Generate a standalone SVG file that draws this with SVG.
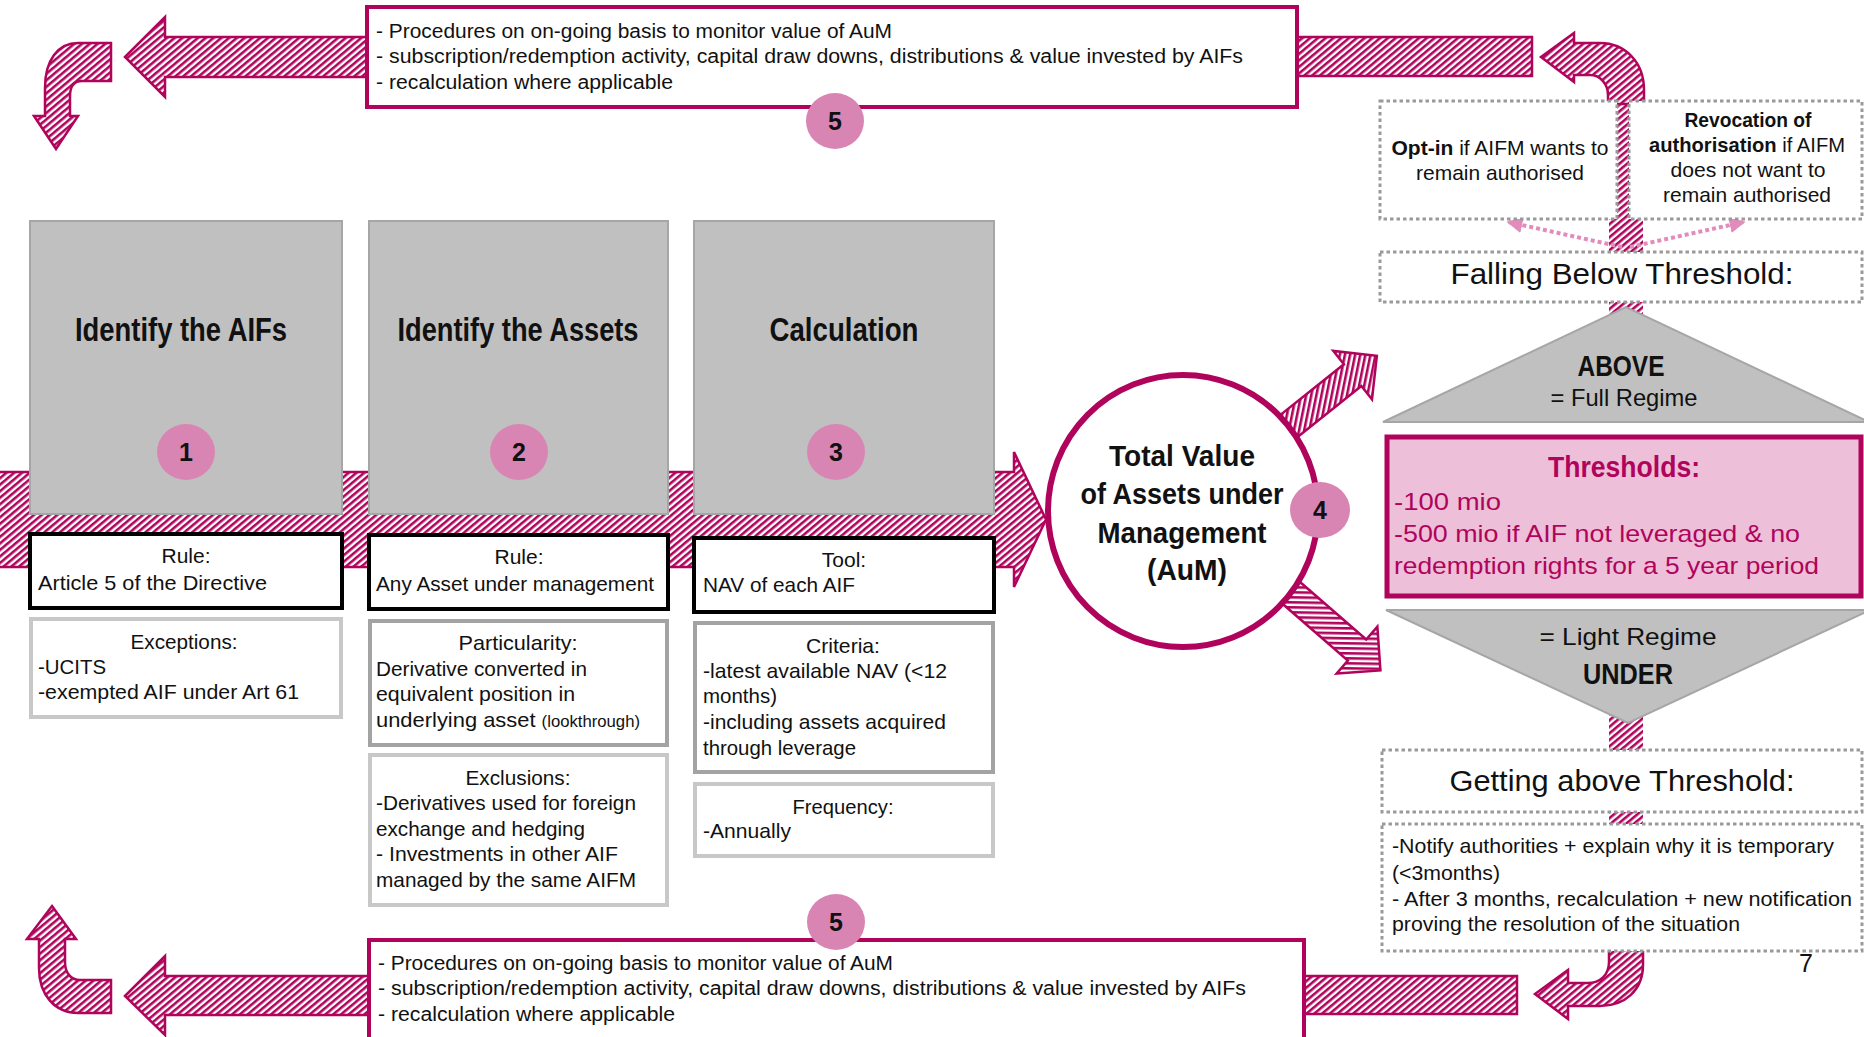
<svg xmlns="http://www.w3.org/2000/svg" width="1864" height="1037" viewBox="0 0 1864 1037">
  <style>
    .t{font-family:"Liberation Sans Narrow","Liberation Sans",Arial,sans-serif;font-size:21px;fill:#111}
    .s{font-size:20px}
    .c{text-anchor:middle}
    .b{font-weight:bold}
    .title{font-size:33px;font-weight:bold;text-anchor:middle}
    .big{font-size:30px}
    .mid{font-size:24px}
    .f29{font-size:30px}
    .f25{font-size:25px}
    .small{font-size:16px}
    .num{font-size:25px;font-weight:bold;text-anchor:middle}
    .mag{fill:#B0045C}
    .hatch{fill:url(#hatch);stroke:#B0045C;stroke-width:2.5;stroke-linejoin:miter}
    .grey{fill:#C0C0C0;stroke:#A6A6A6;stroke-width:2}
    .badge{fill:#D985B3}
    .black{fill:#fff;stroke:#000;stroke-width:4}
    .light{fill:#fff;stroke:#C8C8C8;stroke-width:4}
    .dark{fill:#fff;stroke:#A3A3A3;stroke-width:4}
    .dots{fill:#fff;stroke:#9A9A9A;stroke-width:3;stroke-dasharray:3.5 3}
    .frame{fill:#fff;stroke:#B0045C;stroke-width:4}
    .pinkdot{fill:none;stroke:#E28CBC;stroke-width:4;stroke-dasharray:4 3}
  </style>
  <defs>
    <pattern id="hatch" width="5" height="5" patternUnits="userSpaceOnUse" patternTransform="rotate(50)">
      <rect width="5" height="5" fill="#fff"/>
      <rect width="2.6" height="5" fill="#B0045C"/>
    </pattern>
    <marker id="pinkhead" viewBox="0 0 10 10" refX="9" refY="5" markerWidth="16" markerHeight="16" markerUnits="userSpaceOnUse" orient="auto">
      <path d="M0,0 L10,5 L0,10 Z" fill="#E28CBC"/>
    </marker>
  </defs>

  <rect width="1864" height="1037" fill="#fff"/>

  <g id="connectors">
    <!-- main flow band with head -->
    <path class="hatch" d="M-2,472 L1014,472 L1014,452 L1046,519.5 L1014,587 L1014,567 L-2,567 Z"/>
    <!-- diagonal arrows out of the AuM circle -->
    <path class="hatch" transform="translate(1282.3,431.3) rotate(-38.6)" d="M0,-14 L90,-14 L90,-31 L121,0 L90,31 L90,14 L0,14 Z"/>
    <path class="hatch" transform="translate(1289.1,591) rotate(41)" d="M0,-14 L90,-14 L90,-31 L121,0 L90,31 L90,14 L0,14 Z"/>
    <!-- vertical spine on the right, upper and lower runs -->
    <rect x="1609" y="95" width="34" height="225" fill="url(#hatch)"/>
    <rect x="1609" y="700" width="34" height="257" fill="url(#hatch)"/>
    <!-- top loop -->
    <path class="hatch" d="M1541,57 L1574,33 L1574,43 L1600,43 C1625,43 1644,62 1644,90 L1644,104 L1608,104 L1608,95 C1608,84 1600,75 1590,75 L1574,75 L1574,82 Z"/>
    <rect class="hatch" x="1296" y="37" width="236" height="39"/>
    <path class="hatch" d="M125,57 L165,17 L165,37 L370,37 L370,77 L165,77 L165,97 Z"/>
    <path class="hatch" d="M111,43 L78,43 C58,43 45,60 45,88 L45,116 L34,116 L56,149 L78,116 L70,116 L70,96 C70,87 74,81 82,81 L111,81 Z"/>
    <!-- bottom loop -->
    <path class="hatch" d="M1535,994 L1568,970 L1568,983 L1588,983 C1600,983 1609,975 1609,962 L1609,950 L1643,950 L1643,965 C1643,990 1625,1006 1600,1006 L1568,1006 L1568,1019 Z"/>
    <rect class="hatch" x="1302" y="976" width="215" height="38"/>
    <path class="hatch" d="M125,996 L165,956 L165,976 L372,976 L372,1015 L165,1015 L165,1035 Z"/>
    <path class="hatch" d="M52,906 L76,939 L65,939 L65,962 C65,973 71,980 80,980 L111,980 L111,1013 L78,1013 C55,1013 39,995 39,968 L39,939 L27,939 Z"/>
    <!-- options when falling below -->
    <line class="pinkdot" x1="1622" y1="247" x2="1508" y2="222" marker-end="url(#pinkhead)"/>
    <line class="pinkdot" x1="1630" y1="247" x2="1744" y2="222" marker-end="url(#pinkhead)"/>
  </g>

  <g id="monitor-top">
    <rect class="frame" x="367" y="7" width="930" height="100"/>
    <text class="t s" x="376" y="38" textLength="516" lengthAdjust="spacingAndGlyphs">- Procedures on on-going basis to monitor value of AuM</text>
    <text class="t s" x="376" y="63" textLength="867" lengthAdjust="spacingAndGlyphs">- subscription/redemption activity, capital draw downs, distributions &amp; value invested by AIFs</text>
    <text class="t s" x="376" y="89" textLength="297" lengthAdjust="spacingAndGlyphs">- recalculation where applicable</text>
    <ellipse class="badge" cx="835" cy="121" rx="29" ry="28"/>
    <text class="t num" x="835" y="130">5</text>
  </g>

  <g id="monitor-bottom">
    <rect class="frame" x="369" y="940" width="935" height="110"/>
    <text class="t s" x="378" y="970" textLength="515" lengthAdjust="spacingAndGlyphs">- Procedures on on-going basis to monitor value of AuM</text>
    <text class="t s" x="378" y="995" textLength="868" lengthAdjust="spacingAndGlyphs">- subscription/redemption activity, capital draw downs, distributions &amp; value invested by AIFs</text>
    <text class="t s" x="378" y="1021" textLength="297" lengthAdjust="spacingAndGlyphs">- recalculation where applicable</text>
    <ellipse class="badge" cx="836" cy="922" rx="29" ry="28"/>
    <text class="t num" x="836" y="931">5</text>
  </g>

  <g id="step-identify-aifs">
    <rect class="grey" x="30" y="221" width="312" height="293"/>
    <text class="t title" x="181" y="341" textLength="212" lengthAdjust="spacingAndGlyphs">Identify the AIFs</text>
    <ellipse class="badge" cx="186" cy="452" rx="29" ry="28"/>
    <text class="t num" x="186" y="461">1</text>
    <rect class="black" x="30" y="534" width="312" height="74"/>
    <text class="t c" x="186" y="563">Rule:</text>
    <text class="t" x="38" y="590" textLength="229" lengthAdjust="spacingAndGlyphs">Article 5 of the Directive</text>
    <rect class="light" x="31" y="619" width="310" height="98"/>
    <text class="t c" x="184" y="649" textLength="107" lengthAdjust="spacingAndGlyphs">Exceptions:</text>
    <text class="t" x="38" y="674" textLength="68" lengthAdjust="spacingAndGlyphs">-UCITS</text>
    <text class="t" x="38" y="699" textLength="261" lengthAdjust="spacingAndGlyphs">-exempted AIF under Art 61</text>
  </g>

  <g id="step-identify-assets">
    <rect class="grey" x="369" y="221" width="299" height="293"/>
    <text class="t title" x="518" y="341" textLength="241" lengthAdjust="spacingAndGlyphs">Identify the Assets</text>
    <ellipse class="badge" cx="519" cy="452" rx="29" ry="28"/>
    <text class="t num" x="519" y="461">2</text>
    <rect class="black" x="369" y="535" width="299" height="74"/>
    <text class="t c" x="519" y="564">Rule:</text>
    <text class="t" x="376" y="591" textLength="278" lengthAdjust="spacingAndGlyphs">Any Asset under management</text>
    <rect class="dark" x="370" y="621" width="297" height="124"/>
    <text class="t c" x="518" y="650" textLength="119" lengthAdjust="spacingAndGlyphs">Particularity:</text>
    <text class="t" x="376" y="676" textLength="211" lengthAdjust="spacingAndGlyphs">Derivative converted in</text>
    <text class="t" x="376" y="701" textLength="199" lengthAdjust="spacingAndGlyphs">equivalent position in</text>
    <text class="t" x="376" y="727" textLength="264" lengthAdjust="spacingAndGlyphs">underlying asset <tspan class="small">(lookthrough)</tspan></text>
    <rect class="light" x="370" y="755" width="297" height="150"/>
    <text class="t c" x="518" y="785" textLength="105" lengthAdjust="spacingAndGlyphs">Exclusions:</text>
    <text class="t" x="376" y="810" textLength="260" lengthAdjust="spacingAndGlyphs">-Derivatives used for foreign</text>
    <text class="t" x="376" y="836" textLength="209" lengthAdjust="spacingAndGlyphs">exchange and hedging</text>
    <text class="t" x="376" y="861" textLength="242" lengthAdjust="spacingAndGlyphs">- Investments in other AIF</text>
    <text class="t" x="376" y="887" textLength="260" lengthAdjust="spacingAndGlyphs">managed by the same AIFM</text>
  </g>

  <g id="step-calculation">
    <rect class="grey" x="694" y="221" width="300" height="293"/>
    <text class="t title" x="844" y="341" textLength="149" lengthAdjust="spacingAndGlyphs">Calculation</text>
    <ellipse class="badge" cx="836" cy="452" rx="29" ry="28"/>
    <text class="t num" x="836" y="461">3</text>
    <rect class="black" x="694" y="538" width="300" height="74"/>
    <text class="t c" x="844" y="567">Tool:</text>
    <text class="t" x="703" y="592" textLength="152" lengthAdjust="spacingAndGlyphs">NAV of each AIF</text>
    <rect class="dark" x="695" y="623" width="298" height="149"/>
    <text class="t c" x="843" y="653" textLength="74" lengthAdjust="spacingAndGlyphs">Criteria:</text>
    <text class="t" x="703" y="678" textLength="244" lengthAdjust="spacingAndGlyphs">-latest available NAV (&lt;12</text>
    <text class="t" x="703" y="703" textLength="74" lengthAdjust="spacingAndGlyphs">months)</text>
    <text class="t" x="703" y="729" textLength="243" lengthAdjust="spacingAndGlyphs">-including assets acquired</text>
    <text class="t" x="703" y="755" textLength="153" lengthAdjust="spacingAndGlyphs">through leverage</text>
    <rect class="light" x="695" y="784" width="298" height="72"/>
    <text class="t c" x="843" y="814" textLength="101" lengthAdjust="spacingAndGlyphs">Frequency:</text>
    <text class="t" x="703" y="838" textLength="88" lengthAdjust="spacingAndGlyphs">-Annually</text>
  </g>

  <g id="total-aum">
    <ellipse cx="1183" cy="511" rx="135" ry="136" fill="#fff" stroke="#B0045C" stroke-width="6"/>
    <text class="t big b c" x="1182" y="466" textLength="146" lengthAdjust="spacingAndGlyphs">Total Value</text>
    <text class="t big b c" x="1182" y="504" textLength="203" lengthAdjust="spacingAndGlyphs">of Assets under</text>
    <text class="t big b c" x="1182" y="543" textLength="169" lengthAdjust="spacingAndGlyphs">Management</text>
    <text class="t big b c" x="1187" y="580" textLength="80" lengthAdjust="spacingAndGlyphs">(AuM)</text>
    <ellipse class="badge" cx="1320" cy="510" rx="30" ry="28"/>
    <text class="t num" x="1320" y="519">4</text>
  </g>

  <g id="opt-in">
    <rect class="dots" x="1380" y="101" width="237" height="118"/>
    <text class="t c" x="1500" y="155" textLength="217" lengthAdjust="spacingAndGlyphs"><tspan class="b">Opt-in</tspan> if AIFM wants to</text>
    <text class="t c" x="1500" y="180" textLength="168" lengthAdjust="spacingAndGlyphs">remain authorised</text>
  </g>

  <g id="revocation">
    <rect class="dots" x="1629" y="101" width="233" height="118"/>
    <text class="t b c" x="1748" y="127" textLength="127" lengthAdjust="spacingAndGlyphs">Revocation of</text>
    <text class="t c" x="1747" y="152" textLength="196" lengthAdjust="spacingAndGlyphs"><tspan class="b">authorisation</tspan> if AIFM</text>
    <text class="t c" x="1748" y="177" textLength="155" lengthAdjust="spacingAndGlyphs">does not want to</text>
    <text class="t c" x="1747" y="202" textLength="168" lengthAdjust="spacingAndGlyphs">remain authorised</text>
  </g>

  <g id="falling-below">
    <rect class="dots" x="1380" y="252" width="482" height="50"/>
    <text class="t big c" x="1622" y="284" textLength="343" lengthAdjust="spacingAndGlyphs">Falling Below Threshold:</text>
  </g>

  <g id="above">
    <polygon class="grey" points="1383,422 1626,307 1869,422"/>
    <text class="t b c f29" x="1621" y="376" textLength="87" lengthAdjust="spacingAndGlyphs">ABOVE</text>
    <text class="t mid c" x="1624" y="406" textLength="147" lengthAdjust="spacingAndGlyphs">= Full Regime</text>
  </g>

  <g id="thresholds">
    <rect x="1387" y="437" width="474" height="159" fill="#EDBFD8" stroke="#B0045C" stroke-width="5"/>
    <text class="t big b c mag" x="1624" y="477" textLength="152" lengthAdjust="spacingAndGlyphs">Thresholds:</text>
    <text class="t mid mag" x="1394" y="510" textLength="107" lengthAdjust="spacingAndGlyphs">-100 mio</text>
    <text class="t mid mag" x="1394" y="542" textLength="406" lengthAdjust="spacingAndGlyphs">-500 mio if AIF not leveraged &amp; no</text>
    <text class="t mid mag" x="1394" y="574" textLength="425" lengthAdjust="spacingAndGlyphs">redemption rights for a 5 year period</text>
  </g>

  <g id="under">
    <polygon class="grey" points="1386,610 1870,610 1628,723"/>
    <text class="t mid c" x="1628" y="645" textLength="177" lengthAdjust="spacingAndGlyphs">= Light Regime</text>
    <text class="t b c f29" x="1628" y="684" textLength="90" lengthAdjust="spacingAndGlyphs">UNDER</text>
  </g>

  <g id="getting-above">
    <rect class="dots" x="1382" y="750" width="480" height="62"/>
    <text class="t big c" x="1622" y="791" textLength="345" lengthAdjust="spacingAndGlyphs">Getting above Threshold:</text>
  </g>

  <g id="notify">
    <rect class="dots" x="1382" y="824" width="480" height="127"/>
    <text class="t" x="1392" y="853" textLength="442" lengthAdjust="spacingAndGlyphs">-Notify authorities + explain why it is temporary</text>
    <text class="t" x="1392" y="880" textLength="108" lengthAdjust="spacingAndGlyphs">(&lt;3months)</text>
    <text class="t" x="1392" y="906" textLength="460" lengthAdjust="spacingAndGlyphs">- After 3 months, recalculation + new notification</text>
    <text class="t" x="1392" y="931" textLength="348" lengthAdjust="spacingAndGlyphs">proving the resolution of the situation</text>
  </g>

  <g id="page-number">
    <text class="t c f25" x="1806" y="972">7</text>
  </g>
</svg>
